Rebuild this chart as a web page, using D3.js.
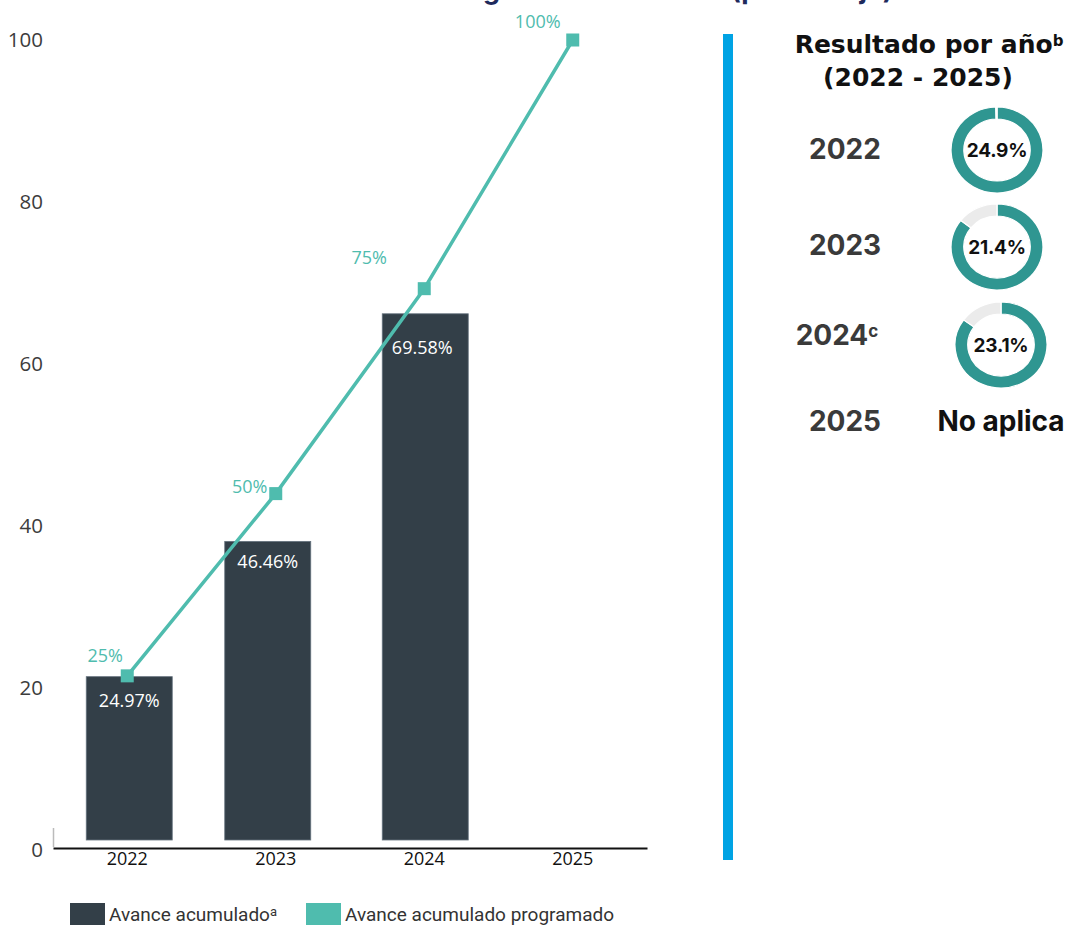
<!DOCTYPE html>
<html>
<head>
<meta charset="utf-8">
<script src="https://cdn.jsdelivr.net/npm/d3@7"></script>
<style>
  body { margin: 0; background: #fff; }
  svg { display: block; }
</style>
</head>
<body>
<script>
// data
var years = ["2022", "2023", "2024", "2025"];
var barValues = [21.4, 38.1, 66.2, null];          // drawn bar heights
var barLabels = ["24.97%", "46.46%", "69.58%", ""];
var lineValues = [21.5, 44, 69.3, 100];             // programmed line
var lineLabels = ["25%", "50%", "75%", "100%"];
var yTicks = [0, 20, 40, 60, 80, 100];

var donutYears = ["2022", "2023", "2024"];
var donutSup = ["", "", "c"];
var donutValues = [24.9, 21.4, 23.1];
var donutGoals = [25, 25, 27.2];
var donutLabels = ["24.9%", "21.4%", "23.1%"];

var W = 1067, H = 925;
var dark = "#333f48", teal = "#4fbcae", ring = "#2f9691", grey = "#ebebeb";
var font = "'Open Sans', sans-serif";

var svg = d3.select("body").append("svg").attr("width", W).attr("height", H);

// cut-off title at the very top
svg.append("text")
    .attr("x", 893).attr("y", -1)
    .attr("text-anchor", "end")
    .style("font-family", "Inter, sans-serif").style("font-weight", 700)
    .style("font-size", "27px").style("fill", "#1e2a5c")
    .text("Avance general de la meta (porcentaje)");

var x = d3.scaleBand().domain(years).range([53, 647]);
var y = d3.scaleLinear().domain([0, 100]).range([850, 40]);

// y labels
svg.selectAll(".ylab").data(yTicks).enter().append("text")
    .attr("class", "ylab")
    .attr("x", 43).attr("y", function(d){ return y(d); })
    .attr("dy", "0.36em")
    .attr("text-anchor", "end")
    .style("font-family", font).style("font-size", "20.5px").style("fill", "#3c3c3c")
    .text(function(d){ return d; });

// little stub + baseline
svg.append("line").attr("x1", 53.5).attr("x2", 53.5).attr("y1", 828).attr("y2", 847)
    .style("stroke", "#bbb").style("stroke-width", 1.5);

var xAxis = svg.append("g").attr("transform", "translate(0,848)")
    .call(d3.axisBottom(x).tickSize(0).tickPadding(4));
xAxis.select(".domain").style("stroke", "#111").style("stroke-width", 2);
xAxis.selectAll("text")
    .style("font-family", font).style("font-size", "18px").style("fill", "#111");

// bars
var barData = years.map(function(d, i){ return {year: d, v: barValues[i], label: barLabels[i]}; })
    .filter(function(d){ return d.v != null; });
var bw = 86;
var barShift = [2, -8, 1];
function bx(d, i){ return x(d.year) + x.bandwidth()/2 + barShift[i]; }
svg.selectAll(".bar").data(barData).enter().append("rect")
    .attr("class", "bar")
    .attr("x", function(d, i){ return bx(d, i) - bw/2; })
    .attr("y", function(d){ return y(d.v); })
    .attr("width", bw)
    .attr("height", function(d){ return y(0) - 10 - y(d.v); })
    .style("fill", dark).style("stroke", "#66737e").style("stroke-width", 0.8);

var barLabOff = [24, 20, 34];
svg.selectAll(".blab").data(barData).enter().append("text")
    .attr("class", "blab")
    .attr("x", function(d, i){ return bx(d, i) - (i === 2 ? 3 : 0); })
    .attr("y", function(d, i){ return y(d.v) + barLabOff[i]; })
    .attr("dy", "0.36em")
    .attr("text-anchor", "middle")
    .style("font-family", font).style("font-size", "18px").style("fill", "#fff")
    .text(function(d){ return d.label; });

// programmed line
var pts = years.map(function(d, i){ return {year: d, v: lineValues[i], label: lineLabels[i]}; });
var line = d3.line()
    .x(function(d){ return x(d.year) + x.bandwidth()/2; })
    .y(function(d){ return y(d.v); });
svg.append("path").datum(pts).attr("d", line)
    .style("fill", "none").style("stroke", teal).style("stroke-width", 3.5);

svg.selectAll(".mk").data(pts).enter().append("rect")
    .attr("class", "mk")
    .attr("x", function(d){ return x(d.year) + x.bandwidth()/2 - 6.5; })
    .attr("y", function(d){ return y(d.v) - 6.5; })
    .attr("width", 13).attr("height", 13)
    .style("fill", teal);

var lineLabOff = [[-22, -20], [-26, -7], [-55, -31], [-35, -18]];
svg.selectAll(".llab").data(pts).enter().append("text")
    .attr("class", "llab")
    .attr("x", function(d, i){ return x(d.year) + x.bandwidth()/2 + lineLabOff[i][0]; })
    .attr("y", function(d, i){ return y(d.v) + lineLabOff[i][1]; })
    .attr("dy", "0.36em")
    .attr("text-anchor", "middle")
    .style("font-family", font).style("font-size", "18px").style("fill", teal)
    .text(function(d){ return d.label; });

// legend
var legend = [{t: "Avance acumulado", sup: "a", c: dark, x: 70}, {t: "Avance acumulado programado", sup: "", c: teal, x: 306}];
var lg = svg.selectAll(".lg").data(legend).enter().append("g").attr("class", "lg")
    .attr("transform", function(d){ return "translate(" + d.x + ",903)"; });
lg.append("rect").attr("width", 35).attr("height", 22).style("fill", function(d){ return d.c; });
var lt = lg.append("text").attr("x", 39).attr("y", 11).attr("dy", "0.36em")
    .style("font-family", "Roboto, sans-serif").style("font-size", "19px").style("fill", "#333");
lt.append("tspan").text(function(d){ return d.t; });
lt.append("tspan").attr("dy", "-0.4em").style("font-size", "13px").text(function(d){ return d.sup; });

// right panel
svg.append("rect").attr("x", 723).attr("y", 34).attr("width", 10).attr("height", 826).style("fill", "#00a3e4");

var bold = "Inter, sans-serif";
var wide = "'DejaVu Sans', sans-serif";
var t1 = svg.append("text").attr("x", 929).attr("y", 53).attr("text-anchor", "middle")
    .style("font-family", wide).style("font-weight", 700).style("font-size", "25px").style("fill", "#111");
t1.append("tspan").text("Resultado por año");
t1.append("tspan").attr("dy", "-0.5em").style("font-size", "15px").text("b");
svg.append("text").attr("x", 918).attr("y", 86).attr("text-anchor", "middle")
    .style("font-family", wide).style("font-weight", 700).style("font-size", "25px").style("fill", "#111")
    .text("(2022 - 2025)");

var rowY = [149, 245, 335, 421];
var allYears = donutYears.concat(["2025"]);
var yl = svg.selectAll(".ry").data(allYears).enter().append("text")
    .attr("class", "ry")
    .attr("x", function(d, i){ return i === 2 ? 837 : 845; })
    .attr("y", function(d, i){ return rowY[i]; })
    .attr("dy", "0.36em").attr("text-anchor", "middle")
    .style("font-family", bold).style("font-weight", 700).style("font-size", "28px").style("fill", "#3a3a3a");
yl.append("tspan").text(function(d){ return d; });
yl.append("tspan").attr("dy", "-0.45em").style("font-size", "17px").text(function(d, i){ return donutSup[i] || ""; });

svg.append("text").attr("x", 1001).attr("y", 421).attr("dy", "0.36em").attr("text-anchor", "middle")
    .style("font-family", bold).style("font-weight", 700).style("font-size", "28px").style("fill", "#111")
    .text("No aplica");

var donutCx = [997, 997, 1001], donutCy = [150, 247, 345];
var arc = d3.arc().innerRadius(31).outerRadius(43);
donutYears.forEach(function(yr, i){
    var g = svg.append("g").attr("transform", "translate(" + donutCx[i] + "," + donutCy[i] + ") scale(1.07,1)");
    var pie = d3.pie().sort(null).value(function(d){ return d; });
    var arcs = pie([donutValues[i], Math.max(donutGoals[i] - donutValues[i], 0)]);
    g.selectAll("path").data(arcs).enter().append("path")
        .attr("d", arc)
        .style("fill", function(d, j){ return j ? grey : ring; })
        .style("stroke", "#fff").style("stroke-width", 1.2);
    svg.append("text").attr("x", donutCx[i]).attr("y", donutCy[i]).attr("dy", "0.36em")
        .attr("text-anchor", "middle")
        .style("font-family", bold).style("font-weight", 700).style("font-size", "19px").style("fill", "#111")
        .style("letter-spacing", "-0.2px")
        .text(donutLabels[i]);
});
</script>
</body>
</html>
